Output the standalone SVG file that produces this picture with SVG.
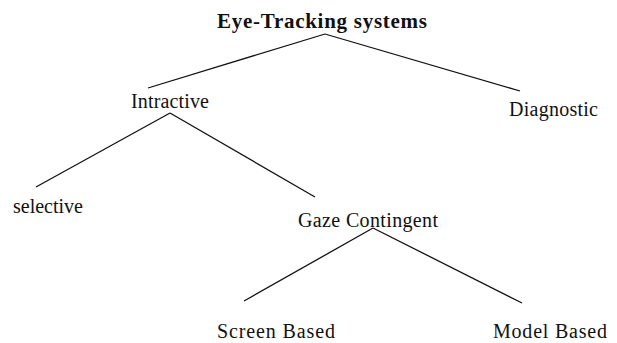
<svg xmlns="http://www.w3.org/2000/svg" width="617" height="343" viewBox="0 0 617 343">
<style>
text{font-family:"Liberation Serif","Times New Roman",serif;font-size:20px;fill:#111}
.title{font-weight:bold;font-size:21px}
.edge{stroke:#111;stroke-width:1.3;fill:none}
</style>
<rect width="617" height="343" fill="#fff"/>
<g id="connectors">
<line class="edge" x1="325" y1="34" x2="148" y2="88"/>
<line class="edge" x1="325" y1="34" x2="520" y2="91"/>
<line class="edge" x1="170" y1="113" x2="36" y2="187"/>
<line class="edge" x1="170" y1="113" x2="315" y2="197"/>
<line class="edge" x1="373" y1="228" x2="244" y2="301"/>
<line class="edge" x1="373" y1="228" x2="522" y2="303"/>
</g>
<g id="root"><text class="title" x="217" y="28" textLength="210">Eye-Tracking systems</text></g>
<g id="intractive"><text x="131" y="108" textLength="78">Intractive</text></g>
<g id="diagnostic"><text x="509" y="116" textLength="89">Diagnostic</text></g>
<g id="selective"><text x="13" y="213" textLength="70">selective</text></g>
<g id="gaze"><text x="298" y="227" textLength="140">Gaze Contingent</text></g>
<g id="screen"><text x="217" y="338" textLength="118">Screen Based</text></g>
<g id="model"><text x="493" y="338" textLength="114">Model Based</text></g>
</svg>
